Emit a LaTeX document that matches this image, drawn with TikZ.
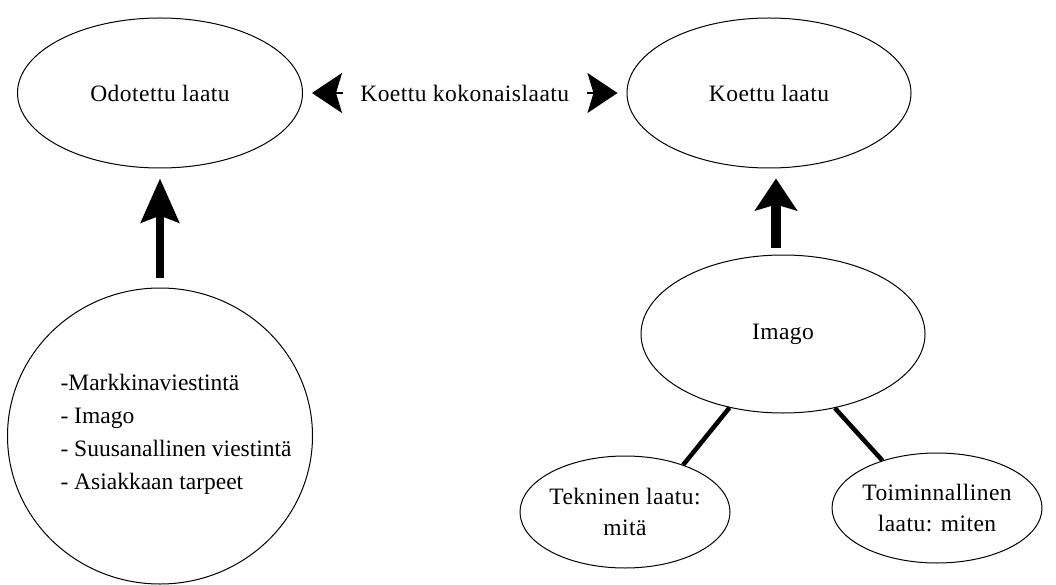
\documentclass[tikz,border=0pt]{standalone}
\usepackage{fontspec}
\setmainfont{Liberation Serif}
\newfontfamily\labelfont[LetterSpace=2]{Liberation Serif}
\usetikzlibrary{shapes.geometric,arrows.meta,calc}
\begin{document}
\begin{tikzpicture}[x=1pt,y=-1pt,
  every node/.style={font=\labelfont\fontsize{23.5}{31}\selectfont},
  oval/.style={draw,ellipse,line width=1pt,inner ysep=0pt,inner xsep=-20pt,align=center},
  bigup/.style={line width=8pt,-{Stealth[length=44pt,width=38pt,inset=7pt]}},
  smallup/.style={line width=10pt,-{Stealth[length=32pt,width=42pt,inset=6pt]}},
  both/.style={line width=2pt,
    {Stealth[length=30pt,width=40pt,inset=6pt]}-{Stealth[length=30pt,width=40pt,inset=6pt]}},
  branch/.style={line width=4.5pt}]
\useasboundingbox (0,0) rectangle (1056,585);

% quality ellipses in the top row
\node[oval,minimum width=285pt,minimum height=150pt] (odotettu) at (160,93) {Odotettu laatu};
\node[oval,minimum width=284pt,minimum height=150pt] (koettu) at (769,93) {Koettu laatu};

% factors behind the expected quality
\node[oval,minimum width=305pt,minimum height=296pt] (tekijat) at (160,436) {};
\node[align=left,anchor=west,font=\rmfamily\fontsize{23.5}{33}\selectfont] (lista) at (57,434)
  {-Markkinaviestintä\\- Imago\\- Suusanallinen viestintä\\- Asiakkaan tarpeet};

% image and its two components
\node[oval,minimum width=284pt,minimum height=158pt] (imago) at (783,334) {Imago};
\node[oval,minimum width=210pt,minimum height=112pt] (tekninen) at (625,512) {Tekninen laatu:\\mitä};
\node[oval,minimum width=210pt,minimum height=110pt] (toiminnallinen) at (937,508) {Toiminnallinen\\laatu: miten};

% connectors
\draw[both,shorten <=9pt,shorten >=9pt] (odotettu) -- (koettu)
  node[midway,fill=white,minimum width=244pt,inner sep=0pt,minimum height=10pt] (kokonais) {Koettu kokonaislaatu};
\draw[bigup,shorten <=10pt,shorten >=10pt] (tekijat.north) -- (odotettu.south);
\coordinate (ux) at (776,0);
\draw[smallup,shorten <=7pt,shorten >=10pt] (imago.north -| ux) -- (koettu.south -| ux);
\draw[branch] (imago.234.5) -- (tekninen.39);
\draw[branch] (imago.305.5) -- (toiminnallinen.139);
\end{tikzpicture}
\end{document}
